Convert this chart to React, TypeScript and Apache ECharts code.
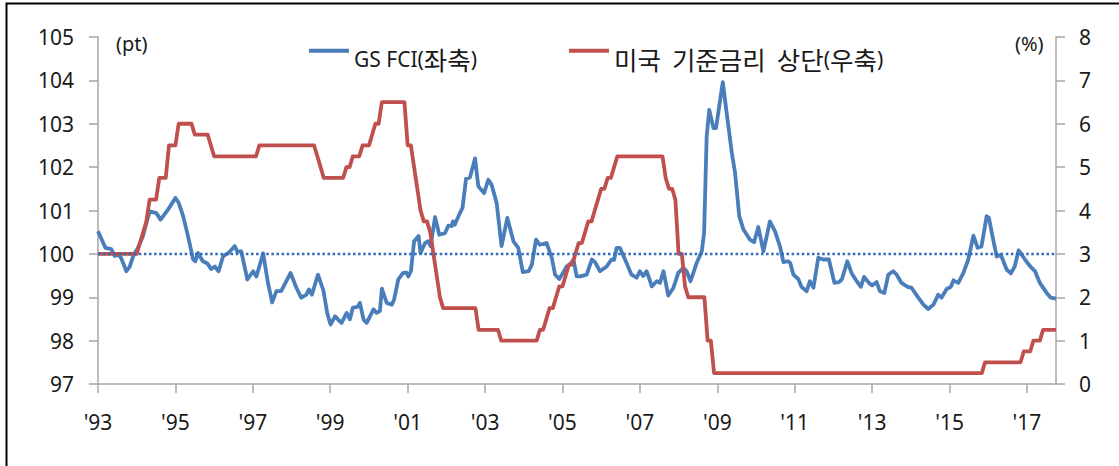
import React, { useEffect, useRef } from "react";
import * as echarts from "echarts";

// ---- data ----
const FCI_NAME = "GS FCI(좌축)";
const FED_NAME = "미국 기준금리 상단(우축)";

// x = months since Jan 1993
const xTickYears = ["'93", "'95", "'97", "'99", "'01", "'03", "'05", "'07", "'09", "'11", "'13", "'15", "'17"];
const lastMonth = 297;

// GS FCI: [month, value]
const gsFci: [number, number][] = [
  [0, 100.52], [2.3, 100.14], [4.1, 100.11], [5.2, 99.95], [6.4, 99.98], [7.2, 99.9], [8.8, 99.6], [9.8, 99.7],
  [10.9, 99.95], [12.4, 100.14], [13.9, 100.4], [16, 100.98], [18.1, 100.94], [19.4, 100.79], [21.7, 101.02],
  [24, 101.29], [25, 101.18], [26.4, 100.87], [27.9, 100.41], [29.5, 99.87], [30.2, 99.83], [31, 100.02],
  [32.5, 99.83], [33.9, 99.78], [35.1, 99.65], [36.2, 99.71], [37.4, 99.6], [38.8, 99.95], [40.3, 100.01],
  [42.4, 100.18], [43.2, 100.05], [44.4, 100.06], [46.3, 99.41], [48.1, 99.6], [49.1, 99.48], [51.2, 100.01],
  [52.7, 99.33], [54, 98.88], [55.3, 99.14], [56.8, 99.14], [59.7, 99.56], [61.5, 99.22], [63, 98.99],
  [64.6, 99.06], [65.4, 99.18], [66.3, 99.06], [68.2, 99.52], [69.9, 99.15], [71.1, 98.62], [72.1, 98.37],
  [73.5, 98.56], [74.5, 98.48], [75.5, 98.41], [77.1, 98.64], [78.1, 98.49], [79, 98.76], [80.5, 98.78],
  [81.2, 98.87], [82.3, 98.49], [83.3, 98.41], [85.4, 98.72], [86.4, 98.64], [87.4, 98.68], [88, 99.2],
  [89.5, 98.87], [91.1, 98.83], [91.8, 98.95], [93.1, 99.41], [94.6, 99.56], [95.6, 99.57], [96.2, 99.48],
  [97, 99.6], [98, 100.29], [99.4, 100.41], [100, 100.02], [101.4, 100.25], [102.4, 100.29], [103.1, 100.18],
  [104.5, 100.85], [105.8, 100.44], [107.6, 100.48], [108.6, 100.65], [109.6, 100.64], [110.1, 100.75],
  [110.6, 100.67], [112, 100.91], [113, 101.06], [114.1, 101.73], [115.3, 101.76], [116.9, 102.2],
  [117.9, 101.56], [119.7, 101.4], [121, 101.71], [122, 101.6], [123.6, 101.17], [125.1, 100.18],
  [126.9, 100.83], [128.8, 100.29], [130.3, 100.14], [131.7, 99.58], [133.5, 99.6], [134.5, 99.75],
  [135.8, 100.33], [137, 100.21], [139.1, 100.25], [140.7, 99.9], [141.7, 99.52], [143, 99.42], [144, 99.54],
  [145.3, 99.71], [146.3, 99.75], [147.4, 99.87], [148.4, 99.48], [149.5, 99.48], [151.5, 99.52],
  [153.1, 99.87], [154.1, 99.81], [155.6, 99.6], [157.7, 99.71], [159.2, 99.87], [160, 99.86], [160.8, 100.14],
  [161.8, 100.14], [163.4, 99.87], [165.4, 99.52], [167, 99.45], [168, 99.6], [169, 99.49], [170.1, 99.6],
  [171.7, 99.25], [173.2, 99.37], [174.2, 99.33], [175.3, 99.6], [176.8, 99.04], [178.4, 99.22],
  [179.9, 99.56], [181.5, 99.68], [182.5, 99.6], [183.7, 99.37], [185.6, 99.79], [187.2, 100.06],
  [187.9, 100.48], [188.7, 102.71], [189.5, 103.32], [190.8, 102.9], [191.6, 102.9], [193.7, 103.96],
  [194.9, 103.25], [196.5, 102.33], [197.5, 101.87], [198.8, 100.87], [200.1, 100.56], [202.1, 100.33],
  [203.4, 100.27], [204.7, 100.62], [206.3, 100.06], [208.3, 100.75], [209.9, 100.52], [211.4, 100.18],
  [212.5, 99.81], [213.9, 99.83], [214.6, 99.79], [215.6, 99.52], [217.1, 99.42], [218.1, 99.24],
  [219.7, 99.14], [220.7, 99.37], [221.8, 99.22], [223.3, 99.91], [224.8, 99.87], [226.6, 99.87],
  [228.3, 99.33], [229.7, 99.35], [230.6, 99.41], [232.3, 99.83], [233.6, 99.56], [235.2, 99.37],
  [236.5, 99.24], [237.5, 99.47], [239, 99.33], [240, 99.27], [241.4, 99.35], [242.4, 99.14], [243.8, 99.1],
  [245, 99.52], [246.5, 99.6], [247.6, 99.52], [249.1, 99.33], [251, 99.24], [252.2, 99.22], [254.3, 98.99],
  [255.9, 98.83], [257.4, 98.73], [259, 98.83], [260.5, 99.06], [261.5, 98.99], [263.1, 99.19],
  [264.4, 99.24], [265.2, 99.39], [266.7, 99.33], [268.3, 99.56], [269.8, 99.87], [271.4, 100.42],
  [272.7, 100.14], [273.9, 100.17], [275.5, 100.87], [276.2, 100.83], [277.3, 100.41], [278.6, 99.94],
  [279.9, 99.98], [281.7, 99.64], [283, 99.55], [284.2, 99.71], [285.4, 100.08], [287.4, 99.87],
  [289, 99.71], [290.5, 99.6], [292, 99.33], [294.1, 99.1], [295.4, 98.99], [297, 98.97],
];

// Fed funds target upper bound (%): month-end level after each change
const fedStartRate = 3.0;
const fedChangeDates = [
  "1994-02", "1994-03", "1994-04", "1994-05", "1994-08", "1994-11", "1995-02", "1995-07", "1995-12", "1996-01",
  "1997-03", "1998-09", "1998-10", "1998-11", "1999-06", "1999-08", "1999-11", "2000-02", "2000-03", "2000-05",
  "2001-01", "2001-03", "2001-04", "2001-05", "2001-06", "2001-08", "2001-09", "2001-10", "2001-11", "2001-12",
  "2002-11", "2003-06", "2004-06", "2004-08", "2004-09", "2004-11", "2004-12", "2005-02", "2005-03", "2005-05",
  "2005-06", "2005-08", "2005-09", "2005-11", "2005-12", "2006-01", "2006-03", "2006-05", "2006-06", "2007-09",
  "2007-10", "2007-12", "2008-01", "2008-03", "2008-04", "2008-10", "2008-12", "2015-12", "2016-12", "2017-03",
  "2017-06",
];
const fedChangeRates = [
  3.25, 3.5, 3.75, 4.25, 4.75, 5.5, 6.0, 5.75, 5.5, 5.25,
  5.5, 5.25, 5.0, 4.75, 5.0, 5.25, 5.5, 5.75, 6.0, 6.5,
  5.5, 5.0, 4.5, 4.0, 3.75, 3.5, 3.0, 2.5, 2.0, 1.75,
  1.25, 1.0, 1.25, 1.5, 1.75, 2.0, 2.25, 2.5, 2.75, 3.0,
  3.25, 3.5, 3.75, 4.0, 4.25, 4.5, 4.75, 5.0, 5.25, 4.75,
  4.5, 4.25, 3.0, 2.25, 2.0, 1.0, 0.25, 0.5, 0.75, 1.0,
  1.25,
];

const fciBaseline = 100;

// ---- helpers ----
const monthIndex = (ym: string) => {
  const [y, m] = ym.split("-").map(Number);
  return (y - 1993) * 12 + (m - 1);
};

function buildFedSeries(): [number, number][] {
  const pts: [number, number][] = [[0, fedStartRate]];
  let prev = fedStartRate;
  fedChangeDates.forEach((d, i) => {
    const m = monthIndex(d);
    pts.push([m - 1, prev]);
    pts.push([m, fedChangeRates[i]]);
    prev = fedChangeRates[i];
  });
  pts.push([lastMonth, prev]);
  return pts;
}

// split a label into Hangul runs, word spaces and other runs for rich text
function richLabel(name: string): string {
  const re = /[\uAC00-\uD7A3]+(?: [\uAC00-\uD7A3]+)*/g;
  let out = "";
  let last = 0;
  let m: RegExpExecArray | null;
  while ((m = re.exec(name)) !== null) {
    if (m.index > last) out += `{l|${name.slice(last, m.index)}}`;
    out += m[0]
      .split(" ")
      .map((w) => `{h|${w}}`)
      .join("{s| }");
    last = m.index + m[0].length;
  }
  if (last < name.length) out += `{l|${name.slice(last)}}`;
  return out;
}

const FONT = "'Noto Sans', 'Noto Sans CJK KR', sans-serif";
const KFONT = "'Noto Sans CJK KR', 'Noto Sans', sans-serif";
const TEXT = "#1a1a1a";
const AXIS = "#a6a6a6";
const BLUE = "#4a7ebb";
const RED = "#c0504d";

export default function App() {
  const ref = useRef<HTMLDivElement>(null);
  useEffect(() => {
    if (!ref.current) return;
    const chart = echarts.init(ref.current, undefined, { renderer: "svg" });
    const legendText = {
      fontFamily: FONT,
      fontSize: 21,
      color: TEXT,
      rich: {
        l: { fontFamily: FONT, fontSize: 21, color: TEXT, lineHeight: 26, padding: [16, 0, 0, 0] },
        h: { fontFamily: KFONT, fontSize: 25.5, color: TEXT, lineHeight: 26, padding: [16, 0, 0, 0] },
        s: { fontFamily: FONT, fontSize: 21, color: TEXT, lineHeight: 26, width: 11, padding: [16, 0, 0, 0] },
      },
    };
    const legendBase = {
      top: 30,
      padding: 0,
      itemWidth: 40,
      itemHeight: 4,
      icon: "rect",
      formatter: richLabel,
      textStyle: legendText,
    };
    chart.setOption({
      animation: false,
      backgroundColor: "#ffffff",
      textStyle: { fontFamily: FONT },
      grid: { left: 98, top: 37, width: 958, height: 347, containLabel: false },
      legend: [
        { ...legendBase, data: [FCI_NAME], left: 309 },
        { ...legendBase, data: [FED_NAME], left: 569 },
      ],
      xAxis: {
        type: "value",
        min: 0,
        max: lastMonth,
        interval: 24,
        axisLine: { show: true, onZero: false, lineStyle: { color: AXIS, width: 1.5 } },
        axisTick: { show: true, length: 9, lineStyle: { color: AXIS, width: 1.5 } },
        splitLine: { show: false },
        axisLabel: {
          margin: 27,
          fontSize: 21,
          color: TEXT,
          fontFamily: FONT,
          showMaxLabel: false,
          formatter: (v: number) => xTickYears[Math.round(v / 24)] ?? "",
        },
      },
      yAxis: [
        {
          type: "value",
          min: 97,
          max: 105,
          interval: 1,
          position: "left",
          axisLine: { show: true, lineStyle: { color: AXIS, width: 1.5 } },
          axisTick: { show: true, length: 9, lineStyle: { color: AXIS, width: 1.5 } },
          splitLine: { show: false },
          axisLabel: { margin: 24, fontSize: 21, color: TEXT, fontFamily: FONT },
        },
        {
          type: "value",
          min: 0,
          max: 8,
          interval: 1,
          position: "right",
          axisLine: { show: true, lineStyle: { color: AXIS, width: 1.5 } },
          axisTick: { show: true, length: 9, lineStyle: { color: AXIS, width: 1.5 } },
          splitLine: { show: false },
          axisLabel: { margin: 23, fontSize: 21, color: TEXT, fontFamily: FONT },
        },
      ],
      series: [
        {
          name: FCI_NAME,
          type: "line",
          yAxisIndex: 0,
          data: gsFci,
          showSymbol: false,
          symbol: "none",
          lineStyle: { color: BLUE, width: 3.8, join: "round" },
          itemStyle: { color: BLUE },
          z: 2,
        },
        {
          name: FED_NAME,
          type: "line",
          yAxisIndex: 1,
          data: buildFedSeries(),
          showSymbol: false,
          symbol: "none",
          lineStyle: { color: RED, width: 3.8, join: "round" },
          itemStyle: { color: RED },
          z: 3,
        },
        {
          name: "baseline",
          type: "line",
          yAxisIndex: 0,
          data: [
            [0, fciBaseline],
            [lastMonth, fciBaseline],
          ],
          showSymbol: false,
          symbol: "none",
          silent: true,
          lineStyle: { color: "#2f6bbd", width: 2.5, type: [2.5, 2.6] },
          z: 4,
        },
      ],
      graphic: [
        {
          type: "rect",
          shape: { x: 6.5, y: 3.5, width: 1300, height: 700 },
          style: { fill: "none", stroke: "#000", lineWidth: 2 },
          silent: true,
        },
        {
          type: "text",
          left: 116,
          top: 33,
          style: { text: "(pt)", fontSize: 20, fill: TEXT, fontFamily: FONT },
        },
        {
          type: "text",
          left: 1015,
          top: 33,
          style: { text: "(%)", fontSize: 20, fill: TEXT, fontFamily: FONT },
        },
      ],
    });
    return () => chart.dispose();
  }, []);
  return (
    <div
      ref={ref}
      style={{ position: "fixed", left: 0, top: 0, width: 1119, height: 466, background: "#fff" }}
    />
  );
}
